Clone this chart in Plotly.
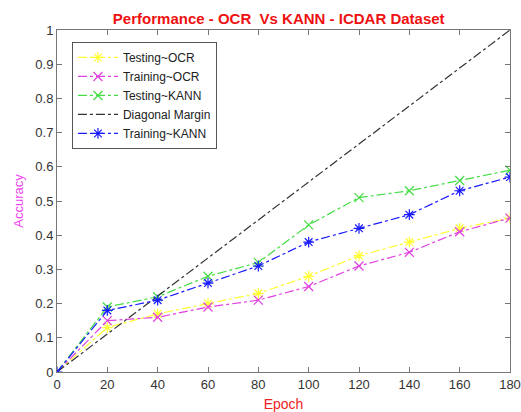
import plotly.graph_objects as go

epochs = [0, 20, 40, 60, 80, 100, 120, 140, 160, 180]
testing_ocr = [0, 0.13, 0.17, 0.20, 0.23, 0.28, 0.34, 0.38, 0.42, 0.45]
training_ocr = [0, 0.15, 0.16, 0.19, 0.21, 0.25, 0.31, 0.35, 0.41, 0.45]
testing_kann = [0, 0.19, 0.22, 0.28, 0.32, 0.43, 0.51, 0.53, 0.56, 0.59]
diag_x = [0, 180]
diag_y = [0, 1]
training_kann = [0, 0.18, 0.21, 0.26, 0.31, 0.38, 0.42, 0.46, 0.53, 0.57]

fig = go.Figure()

def add(x, y, name, color, symbol, mode="lines+markers"):
    fig.add_trace(go.Scatter(
        x=x, y=y, name=name, mode=mode,
        line=dict(color=color, width=1.2, dash="dashdot"),
        marker=dict(symbol=symbol, size=9, color=color, line=dict(color=color, width=1.2)),
    ))

add(epochs, testing_ocr, "Testing~OCR", "#ffff33", "asterisk-open")
add(epochs, training_ocr, "Training~OCR", "#e040e0", "x-thin-open")
add(epochs, testing_kann, "Testing~KANN", "#44dd44", "x-thin-open")
add(diag_x, diag_y, "Diagonal Margin", "#333333", "circle", mode="lines")
add(epochs, training_kann, "Training~KANN", "#1a1aff", "asterisk-open")

axis_common = dict(
    showline=True, linecolor="#777777", linewidth=1, mirror="ticks",
    ticks="inside", ticklen=5, tickcolor="#777777", showgrid=False, zeroline=False,
    automargin=False,
    tickfont=dict(family="Liberation Sans, Arial", size=13, color="#333333"),
)

fig.update_layout(
    width=521, height=412,
    margin=dict(l=57, r=11, t=30, b=40),
    paper_bgcolor="white", plot_bgcolor="white",
    title=dict(text="<b>Performance - OCR  Vs KANN - ICDAR Dataset</b>",
               x=0.535, xanchor="center", y=0.955, yanchor="middle",
               font=dict(family="Liberation Sans, Arial", size=15, color="#ee1111")),
    xaxis=dict(range=[0, 180], tickvals=list(range(0, 181, 20)),
               title=dict(text="Epoch", standoff=12,
                          font=dict(family="Liberation Sans, Arial", size=14, color="#ee2222")),
               **axis_common),
    yaxis=dict(range=[0, 1], tickvals=[i / 10 for i in range(11)],
               ticktext=["0", "0.1", "0.2", "0.3", "0.4", "0.5", "0.6", "0.7", "0.8", "0.9", "1"],
               title=dict(text="Accuracy", standoff=8,
                          font=dict(family="Liberation Sans, Arial", size=13, color="#ee44ee")),
               **axis_common),
    legend=dict(x=0.033, y=0.965, xanchor="left", yanchor="top",
                bgcolor="white", bordercolor="#555555", borderwidth=1,
                font=dict(family="Liberation Sans, Arial", size=12, color="#222222"),
                tracegroupgap=0, itemwidth=40),
    showlegend=True,
)

fig.write_html("out.html")
